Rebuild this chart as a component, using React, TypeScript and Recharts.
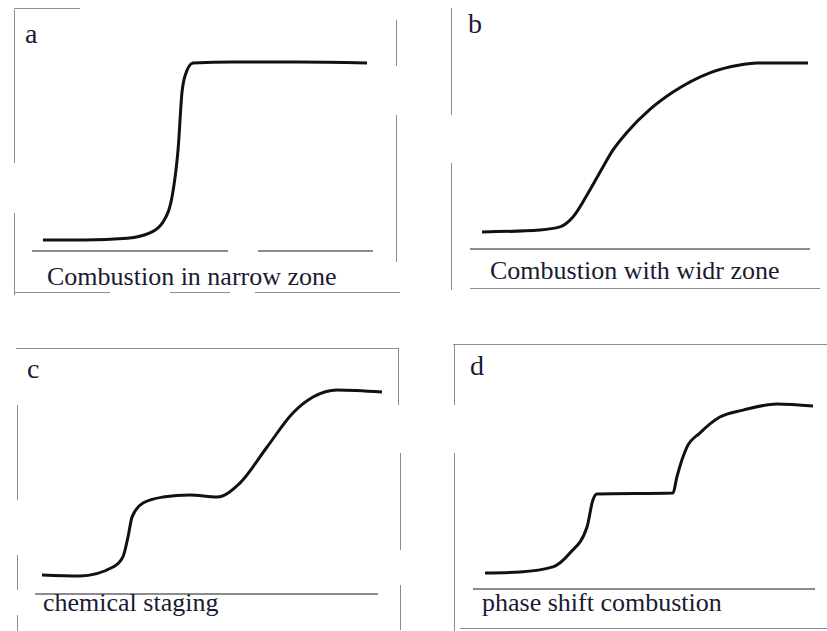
import React from "react";
import { LineChart, Line, XAxis, YAxis } from "recharts";

// Normalised curves (x: 0-100 along the zone, y: 0-100 progress)
const narrowX = [0, 13, 26, 33, 37, 40, 41.7, 42.9, 43.8, 46.3, 58.6, 79, 100];
const narrowY = [0, 0, 1, 4, 10, 26, 51, 83, 92, 99.4, 100, 100, 99.5];

const wideX = [0, 17.8, 23.9, 27.9, 33.1, 37.1, 40, 44.5, 51.5, 58.6, 69.9, 79.1, 84.4, 100];
const wideY = [0, 1.2, 3, 8.9, 24.9, 38.5, 48, 59, 72.5, 82.8, 94.2, 98.8, 100, 100];

const stagingX = [0, 11.2, 20.9, 23.8, 25.3, 26.5, 29.7, 35.6, 43.5, 51.5, 58.2, 66.2, 73.8, 79.7, 86.8, 100];
const stagingY = [0.5, 0, 4.8, 10.2, 20.9, 31.6, 39, 42.2, 43.3, 42.2, 49.7, 69, 87.2, 95.7, 99.5, 98.4];

const phaseX = [0, 10.7, 20.7, 25.9, 31.1, 32.9, 34.1, 57.3, 58.5, 61.6, 65.5, 71.6, 78.7, 89, 100];
const phaseY = [0, 0.6, 3.6, 11.8, 27.2, 43.2, 46.7, 47.3, 56.8, 74.6, 82.8, 92.3, 96.4, 100, 98.8];

const panelLetters = ["a", "b", "c", "d"];
const captions = [
  "Combustion in narrow zone",
  "Combustion with widr zone",
  "chemical staging",
  "phase shift combustion",
];

const toRows = (xs: number[], ys: number[]) => xs.map((x, i) => ({ x, y: ys[i] }));

const series = [
  toRows(narrowX, narrowY),
  toRows(wideX, wideY),
  toRows(stagingX, stagingY),
  toRows(phaseX, phaseY),
];

// layout of each panel: plot box of the curve, letter and caption spots
const layout = [
  { left: 43, top: 62, w: 324, h: 178, lx: 25, ly: 20, cx: 47, cy: 264 },
  { left: 482, top: 63, w: 326, h: 169, lx: 468, ly: 10, cx: 490, cy: 258 },
  { left: 42, top: 389, w: 340, h: 187, lx: 27, ly: 355, cx: 43, cy: 590 },
  { left: 485, top: 404, w: 328, h: 169, lx: 470, ly: 352, cx: 482, cy: 590 },
];

// frame pieces of the scanned boxes: [x1, y1, x2, y2, thickness]
const frames: number[][] = [
  [14, 8, 80, 8, 1],
  [14, 10, 14, 163, 1],
  [14, 213, 14, 295, 1],
  [396, 20, 396, 66, 1],
  [396, 115, 396, 262, 1],
  [32, 250, 228, 250, 1.5],
  [258, 250, 373, 250, 1.5],
  [15, 292, 110, 292, 1],
  [170, 292, 230, 292, 1],
  [255, 292, 400, 292, 1],
  [451, 8, 451, 115, 1],
  [451, 163, 451, 290, 1],
  [470, 248, 810, 248, 1.5],
  [470, 288, 820, 288, 1],
  [16, 348, 398, 348, 1],
  [398, 348, 398, 405, 1],
  [400, 453, 400, 550, 1],
  [400, 585, 400, 630, 1],
  [17, 405, 17, 500, 1],
  [17, 555, 17, 590, 1],
  [17, 615, 17, 631, 1],
  [35, 593, 378, 593, 1.5],
  [453, 344, 827, 344, 1],
  [454, 344, 454, 405, 1],
  [454, 453, 454, 631, 1],
  [473, 588, 815, 588, 1.5],
  [460, 628, 827, 628, 1],
];

const serif = 'Tinos, "Liberation Serif", "DejaVu Serif", "Noto Serif", serif';
const pad = 5;

export default function App() {
  return (
    <div
      style={{
        position: "absolute",
        left: 0,
        top: 0,
        width: 827,
        height: 631,
        background: "#fff",
        overflow: "hidden",
      }}
    >
      {frames.map(([x1, y1, x2, y2, t], i) => (
        <div
          key={"f" + i}
          style={{
            position: "absolute",
            left: x1,
            top: y1,
            width: Math.max(x2 - x1, t),
            height: Math.max(y2 - y1, t),
            background: "#8c8c8c",
          }}
        />
      ))}

      {series.map((rows, i) => {
        const p = layout[i];
        return (
          <React.Fragment key={i}>
            <div
              style={{
                position: "absolute",
                left: p.left - pad,
                top: p.top - pad,
              }}
            >
              <LineChart
                width={p.w + pad * 2}
                height={p.h + pad * 2}
                data={rows}
                margin={{ top: pad, right: pad, bottom: pad, left: pad }}
              >
                <XAxis dataKey="x" type="number" domain={[0, 100]} hide />
                <YAxis type="number" domain={[0, 100]} hide />
                <Line
                  type="monotone"
                  dataKey="y"
                  stroke="#111"
                  strokeWidth={3}
                  dot={false}
                  isAnimationActive={false}
                />
              </LineChart>
            </div>
            <div
              style={{
                position: "absolute",
                left: p.lx,
                top: p.ly,
                fontFamily: serif,
                fontSize: 28,
                lineHeight: "28px",
                color: "#1a1a33",
              }}
            >
              {panelLetters[i]}
            </div>
            <div
              style={{
                position: "absolute",
                left: p.cx,
                top: p.cy,
                fontFamily: serif,
                fontSize: 26,
                lineHeight: "26px",
                color: "#1a1a33",
                whiteSpace: "nowrap",
              }}
            >
              {captions[i]}
            </div>
          </React.Fragment>
        );
      })}
    </div>
  );
}
